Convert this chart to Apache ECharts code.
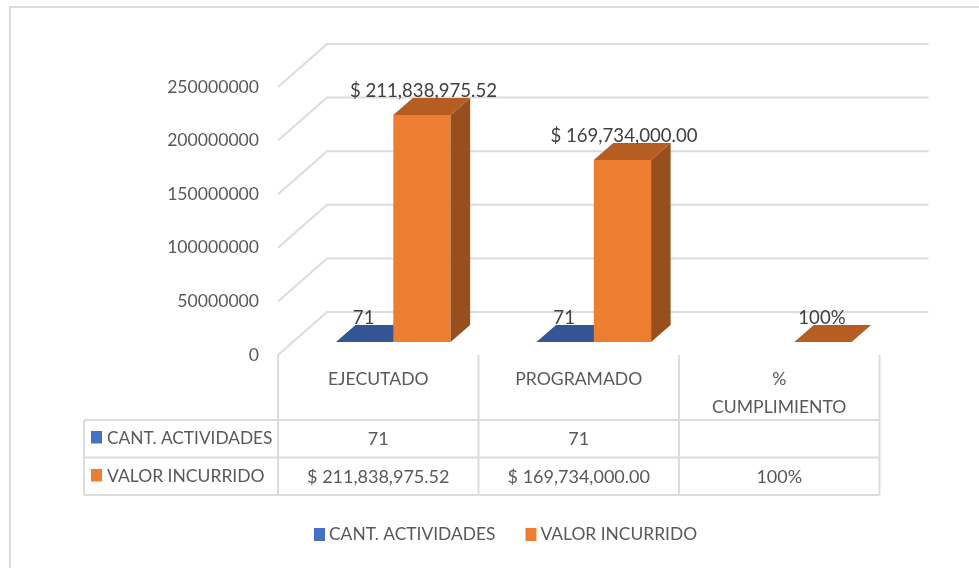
<!DOCTYPE html>
<html><head><meta charset="utf-8">
<style>html,body{margin:0;padding:0;background:#fff}#c{width:979px;height:568px}</style>
<script src="https://cdn.jsdelivr.net/npm/echarts@6/dist/echarts.min.js"></script>
</head><body><div id="c"></div>
<script>
const categories = ['EJECUTADO', 'PROGRAMADO', '%\nCUMPLIMIENTO'];
const cantActividades = [71, 71, null];
const valorIncurrido = [211838975.52, 169734000, 1];
const cantLabels = ['71', '71', ''];
const valorLabels = ['$ 211,838,975.52', '$ 169,734,000.00', '100%'];
const yTicks = [0, 50000000, 100000000, 150000000, 200000000, 250000000];
const seriesNames = ['CANT. ACTIVIDADES', 'VALOR INCURRIDO'];

const FONT = 'Lato';
const GRID = '#dcdcdc';
const WALL = [49, -43];      // offset of back wall from the front plane
const FLOOR = [15, -13];     // bar front plane offset
const DEPTH = [19.5, -17];   // bar depth
const BARW = 57.3, BAR0 = 58;

const chart = echarts.init(document.getElementById('c'), null, {renderer: 'canvas'});

function poly(points, fill, z) {
  return {type: 'polygon', z2: z || 0, shape: {points}, style: {fill}, silent: true};
}
function barItem(idx, labels, colors) {
  return function (params, api) {
    const v = api.value(1);
    if (v == null || isNaN(v)) return null;
    const i = api.value(0);
    const band = api.size([1, 0])[0];
    const base = api.coord([i, 0]);
    const topP = api.coord([i, v]);
    const x0 = base[0] - band / 2 + BAR0 + idx * BARW + FLOOR[0] - 15;
    const x1 = x0 + BARW;
    const yb = base[1] + FLOOR[1];
    const yt = topP[1] + FLOOR[1];
    const [dx, dy] = DEPTH;
    const label = labels[params.dataIndex];
    const shift = label.length > 5 ? 1.5 : -1;
    return {type: 'group', children: [
      poly([[x0, yb], [x1, yb], [x1, yt], [x0, yt]], colors.front),
      poly([[x1, yb], [x1 + dx, yb + dy], [x1 + dx, yt + dy], [x1, yt]], colors.side),
      poly([[x0, yt], [x1, yt], [x1 + dx, yt + dy], [x0 + dx, yt + dy]], colors.top),
      {type: 'text', z2: 10, silent: true, style: {
        text: label, x: (x0 + x1) / 2 + shift, y: yt - 24,
        align: 'center', verticalAlign: 'middle',
        font: '18.6px ' + FONT, fill: '#404040'}}
    ]};
  };
}
function wallItem(params, api) {
  const v = api.value(0);
  const left = api.coord([0, v]);
  const band = api.size([1, 0])[0];
  const xL = left[0] - band / 2, y = left[1];
  const xR = xL + band * categories.length;
  return {type: 'polyline', silent: true,
    shape: {points: [[xL, y], [xL + WALL[0], y + WALL[1]], [xR + WALL[0], y + WALL[1]]]},
    style: {stroke: GRID, lineWidth: 2, fill: null}};
}
const ROWS = [355, 420, 457.5, 495];
const TABLE_LEFT = 84;
function tableItem(params, api) {
  const i = params.dataIndex;
  const band = api.size([1, 0])[0];
  const c = api.coord([i, 0]);
  const xL = c[0] - band / 2, xR = xL + band;
  const line = (x1, y1, x2, y2) => ({type: 'line', silent: true, shape: {x1, y1, x2, y2},
    style: {stroke: GRID, lineWidth: 2}});
  const txt = (t, x, y) => ({type: 'text', silent: true, style: {text: t, x, y,
    align: 'center', verticalAlign: 'middle', font: '18px ' + FONT, fill: '#595959'}});
  const kids = [
    line(xR, ROWS[0], xR, ROWS[3]),
    line(xL, ROWS[1], xR, ROWS[1]), line(xL, ROWS[2], xR, ROWS[2]), line(xL, ROWS[3], xR, ROWS[3]),
    txt(cantLabels[i], c[0], 439), txt(valorLabels[i], c[0], 477)
  ];
  if (i === 0) {
    kids.push(
      line(xL, ROWS[0], xL, ROWS[3]),
      line(TABLE_LEFT, ROWS[1], xL, ROWS[1]), line(TABLE_LEFT, ROWS[2], xL, ROWS[2]),
      line(TABLE_LEFT, ROWS[3], xL, ROWS[3]), line(TABLE_LEFT, ROWS[1], TABLE_LEFT, ROWS[3]),
      {type: 'rect', silent: true, shape: {x: 91, y: 431, width: 11, height: 12.5}, style: {fill: '#4472C4'}},
      {type: 'rect', silent: true, shape: {x: 91, y: 469, width: 11, height: 12.5}, style: {fill: '#ED7D31'}},
      {type: 'text', silent: true, style: {text: seriesNames[0], x: 107, y: 438.5, align: 'left', verticalAlign: 'middle', font: '17.3px ' + FONT, fill: '#595959'}},
      {type: 'text', silent: true, style: {text: seriesNames[1], x: 107, y: 476.5, align: 'left', verticalAlign: 'middle', font: '17.5px ' + FONT, fill: '#595959'}}
    );
  }
  return {type: 'group', children: kids};
}

chart.setOption({
  animation: false,
  backgroundColor: '#fff',
  graphic: [{type: 'polyline', silent: true, z: -10,
    shape: {points: [[10, 568], [10, 7], [979, 7]]},
    style: {fill: 'none', stroke: GRID, lineWidth: 2}}],
  grid: {left: 278, top: 87, width: 601.5, height: 268},
  legend: {
    data: seriesNames, left: 309, top: 521, itemWidth: 11, itemHeight: 13, itemGap: 30,
    icon: 'rect', selectedMode: false,
    textStyle: {fontFamily: FONT, fontSize: 17.4, color: '#595959', padding: [0, 0, 0, -1]}
  },
  xAxis: {type: 'category', data: categories,
    axisLine: {show: false}, axisTick: {show: false}, splitLine: {show: false},
    axisLabel: {fontFamily: FONT, fontSize: 17.6, color: '#595959', lineHeight: 28, margin: 10, interval: 0}},
  yAxis: {type: 'value', min: 0, max: 250000000, interval: 50000000,
    axisLine: {show: false}, axisTick: {show: false}, splitLine: {show: false},
    axisLabel: {fontFamily: FONT, fontSize: 17.6, color: '#595959', margin: 19, verticalAlign: 'middle',
      formatter: v => String(v)}},
  series: [
    {type: 'custom', name: 'walls', clip: false, z: 1, data: yTicks.map(v => [v]),
      encode: {x: [], y: 0}, renderItem: wallItem, tooltip: {show: false}},
    {type: 'custom', name: 'table', clip: false, z: 1, data: categories.map((c, i) => [i, 0]),
      encode: {x: 0, y: 1}, renderItem: tableItem},
    {type: 'custom', name: seriesNames[0], clip: false, z: 3,
      itemStyle: {color: '#4472C4'},
      data: categories.map((c, i) => [i, cantActividades[i]]), encode: {x: 0, y: 1},
      renderItem: barItem(0, cantLabels, {front: '#4472C4', side: '#2F5597', top: '#335593'})},
    {type: 'custom', name: seriesNames[1], clip: false, z: 4,
      itemStyle: {color: '#ED7D31'},
      data: categories.map((c, i) => [i, valorIncurrido[i]]), encode: {x: 0, y: 1},
      renderItem: barItem(1, valorLabels, {front: '#ED7D31', side: '#974F1E', top: '#B55D22'})}
  ]
});
</script></body></html>
